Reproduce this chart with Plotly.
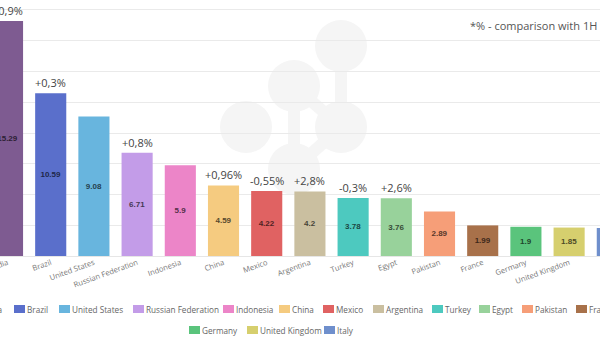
import plotly.graph_objects as go

# ---------------- data ----------------
countries = ["India", "Brazil", "United States", "Russian Federation", "Indonesia",
             "China", "Mexico", "Argentina", "Turkey", "Egypt", "Pakistan",
             "France", "Germany", "United Kingdom", "Italy"]
values = [15.29, 10.59, 9.08, 6.71, 5.9, 4.59, 4.22, 4.2, 3.78, 3.76, 2.89,
          1.99, 1.9, 1.85, 1.82]
changes = ["+0,9%", "+0,3%", "", "+0,8%", "", "+0,96%", "-0,55%", "+2,8%",
           "-0,3%", "+2,6%", "", "", "", "", ""]
note_text = "*% - comparison with 1H 2022"

# ---------------- styles / layout ----------------
colors = ["#7E5B91", "#5A6FCB", "#68B5DE", "#C39CE8", "#EC85C8", "#F5CB80",
          "#E06262", "#CABFA0", "#4DC9BF", "#98D29B", "#F69E78", "#A8714A",
          "#5AC47C", "#D6CF6E", "#6F8FCC"]
# legend entry placement (pixels): left edge of colour box and row centre
legend_box_x = [-30, 14, 59, 133, 223, 279, 323, 373, 432, 479, 522, 576,
                189, 247, 324]
legend_row_y = [309] * 12 + [330] * 3

W, H = 600, 337
PLOT_H = 256


def darker(hex_color, f=0.36):
    h = hex_color.lstrip("#")
    r, g, b = (int(h[i:i + 2], 16) for i in (0, 2, 4))
    return "rgb(%d,%d,%d)" % (r * f, g * f, b * f)


def px_x(px):
    return px / W


def px_y(py):
    return (PLOT_H - py) / PLOT_H


fig = go.Figure()
for i, c in enumerate(countries):
    fig.add_trace(go.Bar(
        x=[c], y=[values[i]], name=c, width=0.72,
        marker=dict(color=colors[i], line=dict(width=0)),
        text=["%g" % values[i]], textposition="inside",
        insidetextanchor="middle", textangle=0,
        textfont=dict(family="Liberation Sans", size=8,
                      color=darker(colors[i]), weight="bold"),
        hoverinfo="skip", showlegend=False))

annotations = []
for c, v, ch in zip(countries, values, changes):
    if ch:
        annotations.append(dict(x=c, y=v, xref="x", yref="y", text=ch,
                                showarrow=False, yanchor="bottom", yshift=1,
                                font=dict(family="Open Sans", size=11, color="#444")))
annotations.append(dict(x=px_x(468), y=px_y(25), xref="paper", yref="paper",
                        xanchor="left", yanchor="middle", showarrow=False,
                        text=note_text,
                        font=dict(family="Open Sans", size=11, color="#555")))

shapes = []
# watermark (light logo of joined circles)
wm_color = "#f5f5f5"
circles = [(341, 46), (294, 86), (246, 127), (341, 127), (294, 169)]
links = [(0, 3), (1, 4), (1, 3), (3, 4)]
for a, b in links:
    (x0, y0), (x1, y1) = circles[a], circles[b]
    shapes.append(dict(type="line", xref="paper", yref="paper", layer="below",
                       x0=px_x(x0), y0=px_y(y0), x1=px_x(x1), y1=px_y(y1),
                       line=dict(color=wm_color, width=12)))
for cx, cy in circles:
    r = 26
    shapes.append(dict(type="circle", xref="paper", yref="paper", layer="below",
                       x0=px_x(cx - r), x1=px_x(cx + r), y0=px_y(cy + r), y1=px_y(cy - r),
                       fillcolor=wm_color, line=dict(width=0)))

# legend (chart-style: small colour box followed by the country name)
for c, col, bx, cy in zip(countries, colors, legend_box_x, legend_row_y):
    shapes.append(dict(type="rect", xref="paper", yref="paper", layer="above",
                       x0=px_x(bx), x1=px_x(bx + 11), y0=px_y(cy + 4), y1=px_y(cy - 4),
                       fillcolor=col, line=dict(width=0)))
    annotations.append(dict(x=px_x(bx + 11), y=px_y(cy), xref="paper", yref="paper",
                            xanchor="left", yanchor="middle", showarrow=False,
                            text=c, font=dict(family="Open Sans", size=8.2, color="#666")))

fig.update_layout(
    width=W, height=H,
    margin=dict(l=0, r=0, t=0, b=H - PLOT_H, autoexpand=False),
    barmode="overlay",
    paper_bgcolor="white", plot_bgcolor="rgba(0,0,0,0)",
    font=dict(family="Open Sans", color="#666"),
    xaxis=dict(type="category", categoryorder="array", categoryarray=countries,
               range=[-0.174, 13.715], tickangle=-20,
               tickfont=dict(family="Open Sans", size=7.6, color="#777"),
               showgrid=False, showline=False, ticks="", zeroline=False),
    yaxis=dict(range=[0, 16.65], tick0=0, dtick=2, showticklabels=False,
               gridcolor="#eaeaea", gridwidth=1, zeroline=True,
               zerolinecolor="#e6e6e6", zerolinewidth=1, showline=False),
    annotations=annotations,
    shapes=shapes,
    showlegend=False,
)

fig.write_html("out.html")
